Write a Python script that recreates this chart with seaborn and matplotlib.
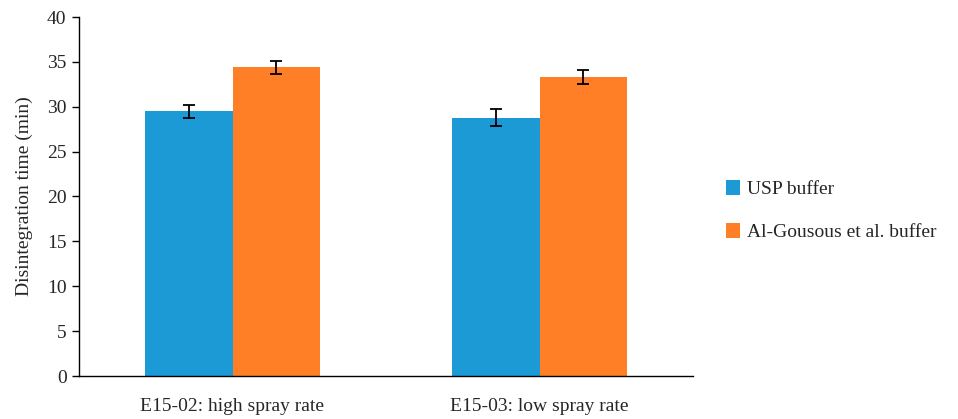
import matplotlib
matplotlib.use("Agg")
import matplotlib.pyplot as plt
import seaborn as sns
import pandas as pd
import numpy as np

samples = ["E15-02: high spray rate", "E15-03: low spray rate"]
buffers = ["USP buffer", "Al-Gousous et al. buffer"]
usp_means = [29.5, 28.8]
usp_sd = [0.75, 0.95]
alg_means = [34.4, 33.3]
alg_sd = [0.75, 0.75]
colors = ["#1b9ad6", "#ff7f27"]

df = pd.DataFrame({
    "sample": samples * 2,
    "buffer": [buffers[0]] * 2 + [buffers[1]] * 2,
    "time": usp_means + alg_means,
    "sd": usp_sd + alg_sd,
})

sns.set_style("white")
plt.rcParams["font.family"] = ["Liberation Serif", "DejaVu Serif"]
fs = 14

fig = plt.figure(figsize=(9.58, 4.19), dpi=100)
ax = fig.add_axes([79 / 958, 1 - 376 / 419, (693 - 79) / 958, (376 - 17) / 419])

sns.barplot(data=df, x="sample", y="time", hue="buffer", palette=colors,
            width=0.573, errorbar=None, saturation=1, ax=ax, linewidth=0)

# error bars at the bar centres
for cont, sds in zip(ax.containers, [usp_sd, alg_sd]):
    for bar, s in zip(cont, sds):
        ax.errorbar(bar.get_x() + bar.get_width() / 2, bar.get_height(), yerr=s,
                    color="black", capsize=4, elinewidth=1.3, capthick=1.3)

ax.set_ylim(0, 40)
ax.set_xlim(-0.5, 1.5)
ax.set_yticks(range(0, 41, 5))
ax.set_xlabel("")
ax.set_ylabel("Disintegration time (min)", fontsize=fs, labelpad=10)
ax.tick_params(axis="y", left=True, length=5, width=1, labelsize=fs, color="black", pad=4)
ax.tick_params(axis="x", bottom=False, labelsize=fs, pad=12)
sns.despine(ax=ax)
for sp in ["left", "bottom"]:
    ax.spines[sp].set_color("black")
    ax.spines[sp].set_linewidth(1)

ax.legend(loc="center left", bbox_to_anchor=(1.025, 0.46), frameon=False,
          fontsize=fs, handlelength=0.75, handleheight=0.75, handletextpad=0.35,
          labelspacing=1.3)

fig.savefig("out.png", dpi=100)
